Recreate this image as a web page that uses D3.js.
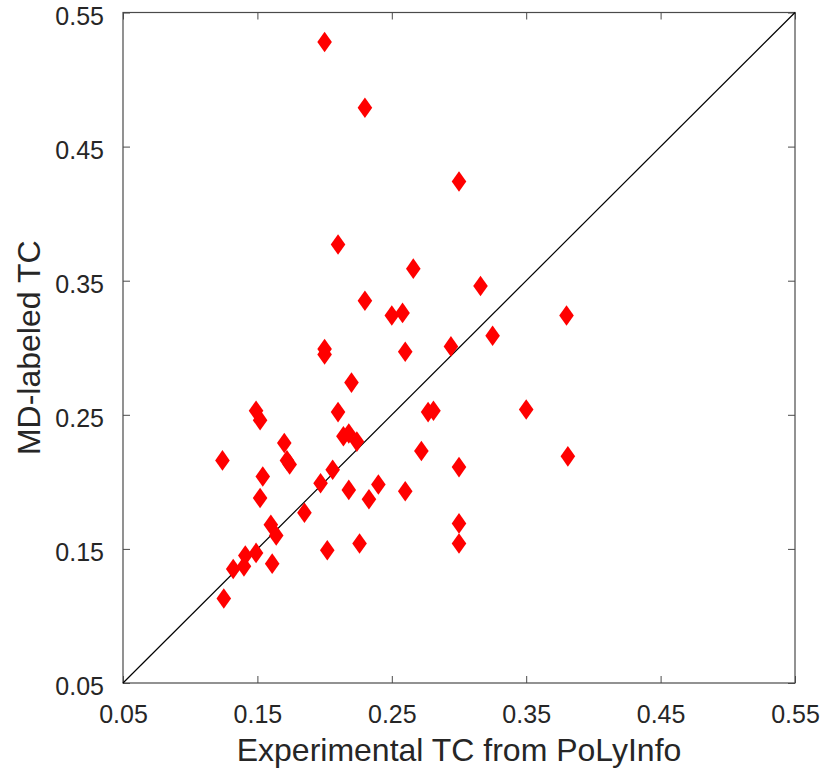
<!DOCTYPE html>
<html>
<head>
<meta charset="utf-8">
<title>MD-labeled TC vs Experimental TC</title>
<script src="https://cdn.jsdelivr.net/npm/d3@7"></script>
<style>
  html, body { margin: 0; padding: 0; background: #fff; }
  #chart { width: 823px; height: 773px; }
</style>
</head>
<body>
<div id="chart"></div>
<script>
// Experimental TC from PoLyInfo (x) and MD-labeled TC (y)
var expTC = [0.200, 0.230, 0.300, 0.210, 0.266, 0.316, 0.230, 0.250, 0.258, 0.325,
             0.200, 0.200, 0.260, 0.294, 0.380, 0.220, 0.149, 0.152, 0.210, 0.277,
             0.281, 0.350, 0.170, 0.214, 0.218, 0.224, 0.272, 0.124, 0.172, 0.174,
             0.381, 0.300, 0.154, 0.206, 0.197, 0.240, 0.218, 0.260, 0.233, 0.152,
             0.185, 0.160, 0.164, 0.300, 0.202, 0.226, 0.300, 0.141, 0.149, 0.132,
             0.140, 0.161, 0.125];
var mdTC  = [0.528, 0.479, 0.424, 0.377, 0.359, 0.346, 0.335, 0.324, 0.326, 0.309,
             0.299, 0.295, 0.297, 0.301, 0.324, 0.274, 0.253, 0.246, 0.252, 0.252,
             0.253, 0.254, 0.229, 0.234, 0.236, 0.230, 0.223, 0.216, 0.216, 0.213,
             0.219, 0.211, 0.204, 0.209, 0.199, 0.198, 0.194, 0.193, 0.187, 0.188,
             0.177, 0.168, 0.160, 0.169, 0.149, 0.154, 0.154, 0.145, 0.147, 0.135,
             0.137, 0.139, 0.113];
var tickValues = [0.05, 0.15, 0.25, 0.35, 0.45, 0.55];
var axisDomain = [0.05, 0.55];

var width = 823, height = 773;
var margin = {top: 12.5, right: 28, bottom: 90, left: 123};

var svg = d3.select("#chart").append("svg")
    .attr("width", width)
    .attr("height", height);

var x = d3.scaleLinear().domain(axisDomain).range([margin.left, width - margin.right]);
var y = d3.scaleLinear().domain(axisDomain).range([height - margin.bottom, margin.top]);

var fmt = d3.format(".2f");
var axisColor = "#4a4a4a";
var tickFont = "'Liberation Sans', Arial, sans-serif";

// inward ticks on all four sides (box on)
function styleAxis(g) {
  g.select(".domain").remove();
  g.selectAll(".tick line").attr("stroke", axisColor);
  g.selectAll(".tick text")
    .attr("fill", "#262626")
    .style("font-family", tickFont)
    .style("font-size", "25px");
}

svg.append("g")
    .attr("transform", "translate(0," + y(0.05) + ")")
    .call(d3.axisBottom(x).tickValues(tickValues).tickFormat(fmt).tickSizeInner(-7).tickPadding(22))
    .call(styleAxis);
svg.append("g")
    .attr("transform", "translate(0," + y(0.55) + ")")
    .call(d3.axisTop(x).tickValues(tickValues).tickFormat("").tickSizeInner(-7))
    .call(styleAxis);
svg.append("g")
    .attr("transform", "translate(" + x(0.05) + ",0)")
    .call(d3.axisLeft(y).tickValues(tickValues).tickFormat(fmt).tickSizeInner(-7).tickPadding(19))
    .call(styleAxis)
    .call(function (g) { g.selectAll(".tick text").attr("dy", "0.46em"); });
svg.append("g")
    .attr("transform", "translate(" + x(0.55) + ",0)")
    .call(d3.axisRight(y).tickValues(tickValues).tickFormat("").tickSizeInner(-7))
    .call(styleAxis);

// frame
svg.append("rect")
    .attr("x", x(0.05))
    .attr("y", y(0.55))
    .attr("width", x(0.55) - x(0.05))
    .attr("height", y(0.05) - y(0.55))
    .attr("fill", "none")
    .attr("stroke", axisColor)
    .attr("stroke-width", 1.2);

// y = x reference line
svg.append("line")
    .attr("x1", x(0.05)).attr("y1", y(0.05))
    .attr("x2", x(0.55)).attr("y2", y(0.55))
    .attr("stroke", "#000")
    .attr("stroke-width", 1.2);

// diamond markers
var hw = 7.3, hh = 10.3;
function diamond(cx, cy) {
  var p = d3.path();
  p.moveTo(cx, cy - hh);
  p.lineTo(cx + hw, cy);
  p.lineTo(cx, cy + hh);
  p.lineTo(cx - hw, cy);
  p.closePath();
  return p.toString();
}

svg.append("g").selectAll("path")
    .data(d3.range(expTC.length))
    .enter()
    .append("path")
      .attr("d", function (i) { return diamond(x(expTC[i]), y(mdTC[i])); })
      .attr("fill", "#ff0000");

// axis titles
svg.append("text")
    .attr("x", (x(0.05) + x(0.55)) / 2)
    .attr("y", 761)
    .attr("text-anchor", "middle")
    .attr("fill", "#262626")
    .style("font-family", tickFont)
    .style("font-size", "32px")
    .text("Experimental TC from PoLyInfo");

svg.append("text")
    .attr("transform", "translate(40," + (y(0.05) + y(0.55)) / 2 + ") rotate(-90)")
    .attr("text-anchor", "middle")
    .attr("fill", "#262626")
    .style("font-family", tickFont)
    .style("font-size", "32px")
    .text("MD-labeled TC");
</script>
</body>
</html>
